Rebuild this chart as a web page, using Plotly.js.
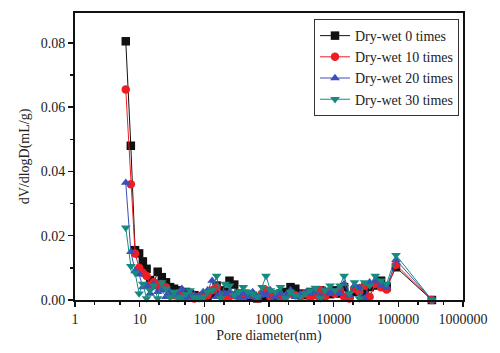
<!DOCTYPE html>
<html>
<head>
<meta charset="utf-8">
<script src="https://cdn.plot.ly/plotly-3.0.1.min.js"></script>
<style>html,body{margin:0;padding:0;background:#fff;}#chart{width:500px;height:353px;}</style>
</head>
<body>
<div id="chart"></div>
<script>
// Pore diameter (nm)
var poreDiameter = [
  6.1, 7.3, 8.5, 9.8, 11.2, 12.8, 14.5, 16.5, 19, 22,
  25.5, 29.5, 34, 39, 45, 52, 60, 70, 82, 96,
  112, 132, 155, 180, 210, 245, 290, 340, 400, 470,
  560, 660, 780, 900, 1050, 1250, 1500, 1800, 2150, 2550,
  3050, 3650, 4350, 5200, 6200, 7400, 8800, 10500, 12500, 14500,
  17500, 21000, 25000, 30000, 36000, 44000, 54000, 66000, 92000, 330000
];
var dryWet0 = [
  0.0805, 0.048, 0.0155, 0.0145, 0.012, 0.0097, 0.0062, 0.005, 0.0088, 0.0071,
  0.0055, 0.004, 0.0035, 0.003, 0.002, 0.0025, 0.0018, 0.0015, 0.001, 0.0012,
  0.0008, 0.002, 0.0045, 0.003, 0.0025, 0.006, 0.0048, 0.002, 0.0015, 0.001,
  0.0012, 0.0005, 0.001, 0.0015, 0.0008, 0.0012, 0.002, 0.0025, 0.004, 0.0035,
  0.002, 0.0015, 0.0025, 0.002, 0.003, 0.0025, 0.0018, 0.003, 0.002, 0.004,
  0.0015, 0.0025, 0.0035, 0.002, 0.004, 0.0045, 0.006, 0.004, 0.0102, 0.0
];
var dryWet10 = [
  0.0655, 0.036, 0.0145, 0.010, 0.0085, 0.0075, 0.0045, 0.0055, 0.0045, 0.005,
  0.004, 0.002, 0.0015, 0.002, 0.001, 0.0008, 0.0015, 0.0005, 0.001, 0.001,
  0.0015, 0.003, 0.004, 0.0015, 0.001, 0.0012, 0.0015, 0.001, 0.0008, 0.002,
  0.0015, 0.0005, 0.002, 0.003, 0.001, 0.0015, 0.0008, 0.001, 0.002, 0.0015,
  0.001, 0.002, 0.0008, 0.0015, 0.003, 0.001, 0.0025, 0.002, 0.003, 0.001,
  0.0005, 0.0035, 0.0025, 0.0045, 0.001, 0.005, 0.004, 0.0033, 0.011, 0.0
];
var dryWet20 = [
  0.0365, 0.015, 0.009, 0.008, 0.004, 0.0045, 0.002, 0.005, 0.0025, 0.003,
  0.001, 0.0025, 0.002, 0.0015, 0.0035, 0.001, 0.002, 0.0015, 0.001, 0.0025,
  0.003, 0.006, 0.001, 0.002, 0.002, 0.0025, 0.0015, 0.001, 0.002, 0.001,
  0.0025, 0.001, 0.002, 0.0015, 0.003, 0.001, 0.002, 0.0015, 0.003, 0.001,
  0.0018, 0.0022, 0.002, 0.0025, 0.0005, 0.003, 0.002, 0.0025, 0.002, 0.005,
  0.0015, 0.0045, 0.0038, 0.0005, 0.0055, 0.006, 0.0045, 0.0038, 0.0125, 0.0
];
var dryWet30 = [
  0.0225, 0.0105, 0.0085, 0.002, 0.005, 0.0005, 0.003, 0.0045, 0.0005, 0.0055,
  0.0035, 0.0008, 0.0025, 0.0005, 0.001, 0.002, 0.003, 0.0008, 0.0005, 0.001,
  0.0025, 0.003, 0.0075, 0.0005, 0.005, 0.0045, 0.0015, 0.0025, 0.004, 0.0025,
  0.002, 0.001, 0.004, 0.0075, 0.003, 0.0025, 0.004, 0.0005, 0.0025, 0.0015,
  0.001, 0.002, 0.003, 0.0038, 0.0005, 0.003, 0.0045, 0.003, 0.0045, 0.0075,
  0.002, 0.0055, 0.0005, 0.0055, 0.0045, 0.0075, 0.006, 0.005, 0.014, 0.0
];
var seriesNames = ['Dry-wet 0 times', 'Dry-wet 10 times', 'Dry-wet 20 times', 'Dry-wet 30 times'];
var seriesColors = ['#111111', '#f01c24', '#3a4fb8', '#178a80'];
var seriesSymbols = ['square', 'circle', 'triangle-up', 'triangle-down'];
var xTickVals = [1, 10, 100, 1000, 10000, 100000, 1000000];
var xTickText = ['1', '10', '100', '1000', '10000', '100000', '1000000'];
var yTickVals = [0, 0.02, 0.04, 0.06, 0.08];

var allY = [dryWet0, dryWet10, dryWet20, dryWet30];
var traces = allY.map(function (ys, i) {
  return {
    x: poreDiameter, y: ys, name: seriesNames[i], type: 'scatter', mode: 'lines+markers',
    line: {color: seriesColors[i], width: 1},
    marker: {color: seriesColors[i], symbol: seriesSymbols[i], size: 8.5, line: {width: 0}},
    cliponaxis: false
  };
});

var font = {family: 'Liberation Serif', size: 14, color: '#222'};
var layout = {
  width: 500, height: 353,
  margin: {l: 75, r: 37, t: 13, b: 53},
  paper_bgcolor: '#fff', plot_bgcolor: '#fff',
  font: font,
  showlegend: true,
  legend: {
    x: 0.616, y: 0.979, xanchor: 'left', yanchor: 'top',
    bordercolor: '#333', borderwidth: 1, bgcolor: '#fff',
    font: font, itemwidth: 30, tracegroupgap: 0
  },
  xaxis: {
    type: 'log', range: [0, 6],
    tickvals: xTickVals, ticktext: xTickText,
    ticks: 'outside', ticklen: 5, tickwidth: 1.5, tickcolor: '#111',
    showline: true, linecolor: '#111', linewidth: 2, mirror: true,
    showgrid: false, zeroline: false,
    minor: {ticks: 'outside', ticklen: 3, tickcolor: '#111', showgrid: false},
    title: {text: 'Pore diameter(nm)', font: font, standoff: 4},
    tickfont: font
  },
  yaxis: {
    range: [0, 0.0893],
    tickvals: yTickVals, tickformat: '.2f',
    ticks: 'outside', ticklen: 5, tickwidth: 1.5, tickcolor: '#111',
    showline: true, linecolor: '#111', linewidth: 2, mirror: true,
    showgrid: false, zeroline: false,
    minor: {ticks: 'outside', ticklen: 3, dtick: 0.01, tick0: 0, tickcolor: '#111', showgrid: false},
    title: {text: 'dV/dlogD(mL/g)', font: font, standoff: 8},
    tickfont: font
  }
};
Plotly.newPlot('chart', traces, layout, {displayModeBar: false, staticPlot: true});
</script>
</body>
</html>
